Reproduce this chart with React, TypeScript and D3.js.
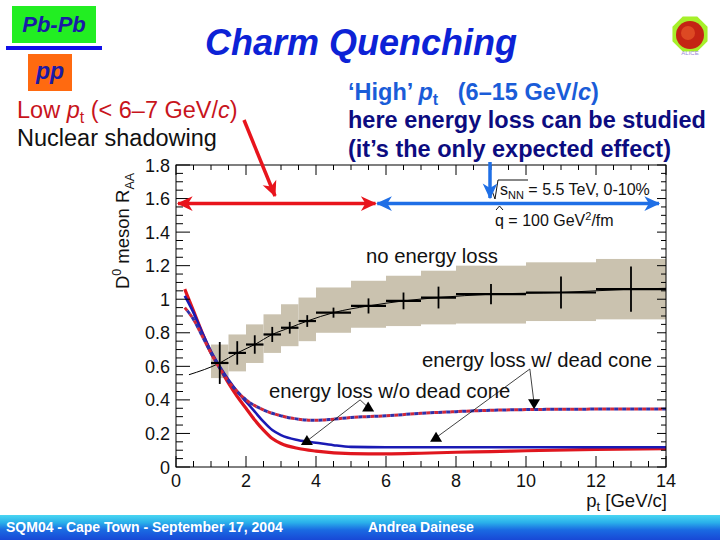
import React, { useEffect, useRef } from "react";
import * as d3 from "d3";

// "no energy loss" histogram: bins, values, stat errors, syst band
const binLo = [1, 1.5, 2, 2.5, 3, 3.5, 4, 5, 6, 7, 8, 10, 12];
const binHi = [1.5, 2, 2.5, 3, 3.5, 4, 5, 6, 7, 8, 10, 12, 14];
const raaNoLoss = [0.62, 0.68, 0.73, 0.79, 0.83, 0.87, 0.92, 0.96, 0.99, 1.01, 1.03, 1.04, 1.06];
const statErr = [0.125, 0.07, 0.055, 0.045, 0.035, 0.035, 0.03, 0.045, 0.05, 0.065, 0.06, 0.095, 0.135];
const bandLow = [0.53, 0.57, 0.62, 0.68, 0.72, 0.75, 0.8, 0.83, 0.84, 0.85, 0.855, 0.87, 0.88];
const bandHigh = [0.73, 0.79, 0.85, 0.91, 0.97, 1.01, 1.07, 1.11, 1.14, 1.17, 1.2, 1.22, 1.24];

// thin guide line through the no-loss points
const guidePt = [0.37, 1.25, 1.75, 2.25, 2.75, 3.25, 3.75, 4.5, 5.5, 6.5, 7.5, 9, 11, 13, 14];
const guideRaa = [0.55, 0.62, 0.68, 0.73, 0.79, 0.83, 0.87, 0.92, 0.96, 0.99, 1.01, 1.03, 1.04, 1.06, 1.065];

// energy loss curves
const redPt = [0.25, 0.5, 0.75, 1.0, 1.25, 1.5, 1.75, 2.0, 2.25, 2.5, 2.75, 3.0, 3.5, 4.0, 5, 6, 7, 8, 9, 10, 12, 14];
const redRaa = [1.06, 0.93, 0.8, 0.68, 0.59, 0.5, 0.42, 0.35, 0.28, 0.22, 0.17, 0.14, 0.11, 0.095, 0.08, 0.078, 0.082, 0.088, 0.092, 0.097, 0.105, 0.11];
const bluePt = [0.25, 0.5, 0.75, 1.0, 1.25, 1.5, 1.75, 2.0, 2.25, 2.5, 2.75, 3.0, 3.5, 4.0, 4.5, 5, 6, 8, 10, 12, 14];
const blueRaa = [1.02, 0.92, 0.8, 0.69, 0.6, 0.52, 0.45, 0.39, 0.33, 0.27, 0.22, 0.19, 0.16, 0.145, 0.13, 0.12, 0.118, 0.118, 0.118, 0.118, 0.118];
const dashPt = [0.25, 0.5, 0.75, 1.0, 1.25, 1.5, 1.75, 2.0, 2.5, 3.0, 3.5, 4.0, 4.5, 5, 6, 7, 8, 9, 10, 12, 14];
const dashRaa = [0.95, 0.88, 0.78, 0.68, 0.59, 0.51, 0.45, 0.4, 0.34, 0.305, 0.285, 0.278, 0.285, 0.295, 0.305, 0.32, 0.33, 0.338, 0.342, 0.345, 0.345];

// annotation pointers: [pt, RAA] of start and triangle markers
const woStart = [5.26, 0.4];
const woTargets = [[3.74, 0.155, "up"], [5.49, 0.355, "up"]] as const;
const dcStart = [10.11, 0.584];
const dcTargets = [[10.23, 0.38, "down"], [7.43, 0.175, "up"]] as const;

const xTicks = [0, 2, 4, 6, 8, 10, 12, 14];
const xTickLabels = ["0", "2", "4", "6", "8", "10", "12", "14"];
const yTicks = [0, 0.2, 0.4, 0.6, 0.8, 1, 1.2, 1.4, 1.6, 1.8];
const yTickLabels = ["0", "0.2", "0.4", "0.6", "0.8", "1", "1.2", "1.4", "1.6", "1.8"];

const FONT = "'Liberation Sans', Arial, sans-serif";

const App: React.FC = () => {
  const svgRef = useRef<SVGSVGElement>(null);

  useEffect(() => {
    if (!svgRef.current) return;
    const svg = d3.select(svgRef.current);
    svg.selectAll("*").remove();

    const x = d3.scaleLinear().domain([0, 14]).range([176, 666]);
    const y = d3.scaleLinear().domain([0, 1.8]).range([467, 165]);

    const defs = svg.append("defs");
    const grad = defs
      .append("linearGradient")
      .attr("id", "foot")
      .attr("x1", 0)
      .attr("y1", 0)
      .attr("x2", 0)
      .attr("y2", 1);
    grad.append("stop").attr("offset", "0%").attr("stop-color", "#4ad6f2");
    grad.append("stop").attr("offset", "30%").attr("stop-color", "#2ab0ea");
    grad.append("stop").attr("offset", "60%").attr("stop-color", "#1a6ae2");
    grad.append("stop").attr("offset", "100%").attr("stop-color", "#1848d6");

    defs
      .append("clipPath")
      .attr("id", "plotclip")
      .append("rect")
      .attr("x", 176)
      .attr("y", 165)
      .attr("width", 490)
      .attr("height", 302);

    const marker = (id: string, color: string, size: number) => {
      defs
        .append("marker")
        .attr("id", id)
        .attr("viewBox", "-14 -7 16 14")
        .attr("refX", 0)
        .attr("refY", 0)
        .attr("markerUnits", "userSpaceOnUse")
        .attr("markerWidth", size)
        .attr("markerHeight", size)
        .attr("orient", "auto-start-reverse")
        .append("path")
        .attr("d", "M1,0 L-13,-6.5 L-9,0 L-13,6.5 Z")
        .attr("fill", color);
    };
    marker("arrRed", "#e8141c", 18);
    marker("arrBlue", "#1f6fe6", 18);

    // ---- header ----
    svg.append("rect").attr("x", 12).attr("y", 6).attr("width", 84).attr("height", 37).attr("fill", "#22ee22");
    svg
      .append("text")
      .attr("x", 54)
      .attr("y", 32)
      .attr("text-anchor", "middle")
      .attr("font-family", FONT)
      .attr("font-size", 22)
      .attr("font-weight", "bold")
      .attr("font-style", "italic")
      .attr("fill", "#1a1aa6")
      .text("Pb-Pb");
    svg.append("rect").attr("x", 6).attr("y", 46).attr("width", 96).attr("height", 4).attr("fill", "#1010e8");
    svg.append("rect").attr("x", 28).attr("y", 54).attr("width", 44).attr("height", 37).attr("fill", "#ff6a10");
    svg
      .append("text")
      .attr("x", 50)
      .attr("y", 79)
      .attr("text-anchor", "middle")
      .attr("font-family", FONT)
      .attr("font-size", 23)
      .attr("font-weight", "bold")
      .attr("font-style", "italic")
      .attr("fill", "#1a1aa6")
      .text("pp");

    svg
      .append("text")
      .attr("x", 205)
      .attr("y", 55)
      .attr("font-family", FONT)
      .attr("font-size", 36)
      .attr("font-weight", "bold")
      .attr("font-style", "italic")
      .attr("fill", "#0c22d6")
      .text("Charm Quenching");

    // logo
    const oct = d3.range(8).map((i) => {
      const a = Math.PI / 8 + (i * Math.PI) / 4;
      return [690 + 19 * Math.cos(a), 34 + 19 * Math.sin(a)];
    });
    svg.append("path").attr("d", `M${oct.join("L")}Z`).attr("fill", "#a6f02a");
    svg.append("circle").attr("cx", 690).attr("cy", 35).attr("r", 14).attr("fill", "#c42414");
    svg.append("circle").attr("cx", 688).attr("cy", 33).attr("r", 7).attr("fill", "#e85a2a").attr("opacity", 0.7);
    svg
      .append("text")
      .attr("x", 690)
      .attr("y", 55)
      .attr("text-anchor", "middle")
      .attr("font-family", FONT)
      .attr("font-size", 6)
      .attr("fill", "#9a8ad8")
      .text("ALICE");

    // left text
    const low = svg
      .append("text")
      .attr("x", 17)
      .attr("y", 118)
      .attr("font-family", FONT)
      .attr("font-size", 23.5)
      .attr("fill", "#c8141c");
    low.append("tspan").text("Low ");
    low.append("tspan").attr("font-style", "italic").text("p");
    low.append("tspan").attr("font-size", 16).attr("dy", 5).text("t");
    low.append("tspan").attr("dy", -5).text(" (< 6–7 GeV/");
    low.append("tspan").attr("font-style", "italic").text("c");
    low.append("tspan").text(")");
    svg
      .append("text")
      .attr("x", 17)
      .attr("y", 146)
      .attr("font-family", FONT)
      .attr("font-size", 23.5)
      .attr("fill", "#111")
      .text("Nuclear shadowing");

    // right text
    const high = svg
      .append("text")
      .attr("x", 348)
      .attr("y", 100)
      .attr("font-family", FONT)
      .attr("font-size", 23.5)
      .attr("font-weight", "bold")
      .attr("fill", "#1a5cd8");
    high.append("tspan").text("‘High’ ");
    high.append("tspan").attr("font-style", "italic").text("p");
    high.append("tspan").attr("font-size", 16).attr("dy", 5).text("t");
    high.append("tspan").attr("dy", -5).attr("xml:space", "preserve").text("   (6–15 GeV/");
    high.append("tspan").attr("font-style", "italic").text("c");
    high.append("tspan").text(")");
    [
      ["here energy loss can be studied", 128],
      ["(it’s the only expected effect)", 157],
    ].forEach(([t, yy]) => {
      svg
        .append("text")
        .attr("x", 348)
        .attr("y", yy as number)
        .attr("font-family", FONT)
        .attr("font-size", 23.5)
        .attr("font-weight", "bold")
        .attr("fill", "#0c0c80")
        .text(t as string);
    });

    // ---- plot ----
    const plot = svg.append("g");

    // syst band
    plot
      .selectAll("rect.band")
      .data(binLo)
      .enter()
      .append("rect")
      .attr("x", (d) => x(d))
      .attr("width", (d, i) => x(binHi[i]) - x(d))
      .attr("y", (d, i) => y(bandHigh[i]))
      .attr("height", (d, i) => y(bandLow[i]) - y(bandHigh[i]))
      .attr("fill", "#cac2af");

    const line = d3
      .line<number>()
      .x((d) => x(d))
      .curve(d3.curveMonotoneX);

    const clipped = plot.append("g").attr("clip-path", "url(#plotclip)");

    clipped
      .append("path")
      .attr("d", line.y((d, i) => y(guideRaa[i]))(guidePt))
      .attr("fill", "none")
      .attr("stroke", "#000")
      .attr("stroke-width", 1);

    // error bars
    binLo.forEach((lo, i) => {
      const c = (lo + binHi[i]) / 2;
      plot
        .append("line")
        .attr("x1", x(lo))
        .attr("x2", x(binHi[i]))
        .attr("y1", y(raaNoLoss[i]))
        .attr("y2", y(raaNoLoss[i]))
        .attr("stroke", "#000")
        .attr("stroke-width", 2.2);
      plot
        .append("line")
        .attr("x1", x(c))
        .attr("x2", x(c))
        .attr("y1", y(raaNoLoss[i] - statErr[i]))
        .attr("y2", y(raaNoLoss[i] + statErr[i]))
        .attr("stroke", "#000")
        .attr("stroke-width", 1.8);
    });

    // curves
    clipped
      .append("path")
      .attr("d", line.y((d, i) => y(redRaa[i]))(redPt))
      .attr("fill", "none")
      .attr("stroke", "#e0161e")
      .attr("stroke-width", 3.2);
    clipped
      .append("path")
      .attr("d", line.y((d, i) => y(blueRaa[i]))(bluePt))
      .attr("fill", "none")
      .attr("stroke", "#1a1ab4")
      .attr("stroke-width", 2.6);
    const dashD = line.y((d, i) => y(dashRaa[i]))(dashPt);
    clipped
      .append("path")
      .attr("d", dashD)
      .attr("fill", "none")
      .attr("stroke", "#d0283a")
      .attr("stroke-width", 3)
      .attr("stroke-dasharray", "4 4");
    clipped
      .append("path")
      .attr("d", dashD)
      .attr("fill", "none")
      .attr("stroke", "#3030a8")
      .attr("stroke-width", 3)
      .attr("stroke-dasharray", "4 4")
      .attr("stroke-dashoffset", 4);

    // frame and ticks
    plot
      .append("rect")
      .attr("x", 176)
      .attr("y", 165)
      .attr("width", 490)
      .attr("height", 302)
      .attr("fill", "none")
      .attr("stroke", "#000")
      .attr("stroke-width", 1);

    const tk = plot.append("g").attr("stroke", "#000").attr("stroke-width", 1);
    d3.range(0, 14.01, 0.5).forEach((v) => {
      const major = Math.abs(v % 2) < 1e-6;
      const px = x(v);
      tk.append("line").attr("x1", px).attr("x2", px).attr("y1", 467).attr("y2", 467 - (major ? 11 : 6));
      tk.append("line").attr("x1", px).attr("x2", px).attr("y1", 165).attr("y2", 165 + (major ? 10 : 5));
    });
    d3.range(0, 1.801, 0.05).forEach((v) => {
      const major = Math.abs(Math.round(v * 100) % 20) < 1e-6;
      const py = y(v);
      tk.append("line").attr("x1", 176).attr("x2", 176 + (major ? 14 : 7)).attr("y1", py).attr("y2", py);
      tk.append("line").attr("x1", 666).attr("x2", 666 - (major ? 9 : 5)).attr("y1", py).attr("y2", py);
    });

    xTicks.forEach((v, i) => {
      plot
        .append("text")
        .attr("x", x(v))
        .attr("y", 487)
        .attr("text-anchor", "middle")
        .attr("font-family", FONT)
        .attr("font-size", 18)
        .attr("fill", "#111")
        .text(xTickLabels[i]);
    });
    yTicks.forEach((v, i) => {
      plot
        .append("text")
        .attr("x", 170)
        .attr("y", y(v) + 6.5)
        .attr("text-anchor", "end")
        .attr("font-family", FONT)
        .attr("font-size", 18)
        .attr("fill", "#111")
        .text(yTickLabels[i]);
    });

    const xl = plot
      .append("text")
      .attr("x", 667)
      .attr("y", 507)
      .attr("text-anchor", "end")
      .attr("font-family", FONT)
      .attr("font-size", 18.5)
      .attr("fill", "#111");
    xl.append("tspan").text("p");
    xl.append("tspan").attr("font-size", 13).attr("dy", 4).text("t");
    xl.append("tspan").attr("dy", -4).text(" [GeV/c]");

    const yl = plot
      .append("text")
      .attr("transform", "translate(129,231) rotate(-90)")
      .attr("text-anchor", "middle")
      .attr("font-family", FONT)
      .attr("font-size", 18.5)
      .attr("fill", "#111");
    yl.append("tspan").text("D");
    yl.append("tspan").attr("font-size", 12.5).attr("dy", -8).text("0");
    yl.append("tspan").attr("dy", 8).text(" meson R");
    yl.append("tspan").attr("font-size", 12.5).attr("dy", 5).text("AA");

    // plot labels
    const lbl = (t: string, px: number, py: number, size = 20.3) =>
      plot
        .append("text")
        .attr("x", px)
        .attr("y", py)
        .attr("font-family", FONT)
        .attr("font-size", size)
        .attr("fill", "#111")
        .text(t);
    lbl("no energy loss", 366, 263);
    lbl("energy loss w/ dead cone", 422, 367);
    lbl("energy loss w/o dead cone", 269, 398);

    const sq = plot
      .append("text")
      .attr("x", 500)
      .attr("y", 195)
      .attr("font-family", FONT)
      .attr("font-size", 16)
      .attr("fill", "#111");
    sq.append("tspan").text("s");
    sq.append("tspan").attr("font-size", 11).attr("dy", 4).text("NN");
    sq.append("tspan").attr("dy", -4).text(" = 5.5 TeV, 0-10%");
    plot
      .append("path")
      .attr("d", "M488,190 L491,188 L495,199 L498,180 L528,180")
      .attr("fill", "none")
      .attr("stroke", "#111")
      .attr("stroke-width", 1);

    const qh = plot
      .append("text")
      .attr("x", 495)
      .attr("y", 226)
      .attr("font-family", FONT)
      .attr("font-size", 16)
      .attr("fill", "#111");
    qh.append("tspan").text("q = 100 GeV");
    qh.append("tspan").attr("font-size", 11).attr("dy", -6).text("2");
    qh.append("tspan").attr("dy", 6).text("/fm");
    plot
      .append("path")
      .attr("d", "M496,210 L499.5,206 L503,210")
      .attr("fill", "none")
      .attr("stroke", "#111")
      .attr("stroke-width", 1);

    // annotation pointers with triangles
    const tri = (cx: number, cy: number, dir: string) => {
      const s = dir === "up" ? -1 : 1;
      return `M${cx - 6},${cy - s * 4}L${cx + 6},${cy - s * 4}L${cx},${cy + s * 6}Z`;
    };
    const pointer = (start: readonly number[], targets: readonly (readonly [number, number, string])[]) => {
      targets.forEach(([tp, tr, dir]) => {
        plot
          .append("line")
          .attr("x1", x(start[0]))
          .attr("y1", y(start[1]))
          .attr("x2", x(tp))
          .attr("y2", y(tr))
          .attr("stroke", "#111")
          .attr("stroke-width", 0.8);
        plot.append("path").attr("d", tri(x(tp), y(tr), dir)).attr("fill", "#000");
      });
    };
    pointer(woStart, woTargets);
    pointer(dcStart, dcTargets);

    // range arrows
    const rangeY = 1.57;
    plot
      .append("line")
      .attr("x1", x(0) + 2)
      .attr("x2", x(5.7))
      .attr("y1", y(rangeY))
      .attr("y2", y(rangeY))
      .attr("stroke", "#e8141c")
      .attr("stroke-width", 3.5)
      .attr("marker-start", "url(#arrRed)")
      .attr("marker-end", "url(#arrRed)");
    plot
      .append("line")
      .attr("x1", x(5.75))
      .attr("x2", x(13.8))
      .attr("y1", y(rangeY))
      .attr("y2", y(rangeY))
      .attr("stroke", "#1f6fe6")
      .attr("stroke-width", 3.5)
      .attr("marker-start", "url(#arrBlue)")
      .attr("marker-end", "url(#arrBlue)");

    // text pointers
    svg
      .append("line")
      .attr("x1", 244)
      .attr("y1", 120)
      .attr("x2", 275)
      .attr("y2", 196)
      .attr("stroke", "#e8141c")
      .attr("stroke-width", 3.5)
      .attr("marker-end", "url(#arrRed)");
    svg
      .append("line")
      .attr("x1", 490)
      .attr("y1", 162)
      .attr("x2", 490)
      .attr("y2", 198)
      .attr("stroke", "#1f6fe6")
      .attr("stroke-width", 3.5)
      .attr("marker-end", "url(#arrBlue)");

    // ---- footer ----
    svg.append("rect").attr("x", 0).attr("y", 515).attr("width", 720).attr("height", 25).attr("fill", "url(#foot)");
    [
      ["SQM04 - Cape Town - September 17, 2004", 6],
      ["Andrea Dainese", 368],
    ].forEach(([t, px]) => {
      svg
        .append("text")
        .attr("x", px as number)
        .attr("y", 532)
        .attr("font-family", FONT)
        .attr("font-size", 14)
        .attr("font-weight", "bold")
        .attr("fill", "#fff")
        .text(t as string);
    });
  }, []);

  return (
    <svg
      ref={svgRef}
      width={720}
      height={540}
      style={{ position: "absolute", left: 0, top: 0, background: "#fff" }}
    />
  );
};

export default App;
